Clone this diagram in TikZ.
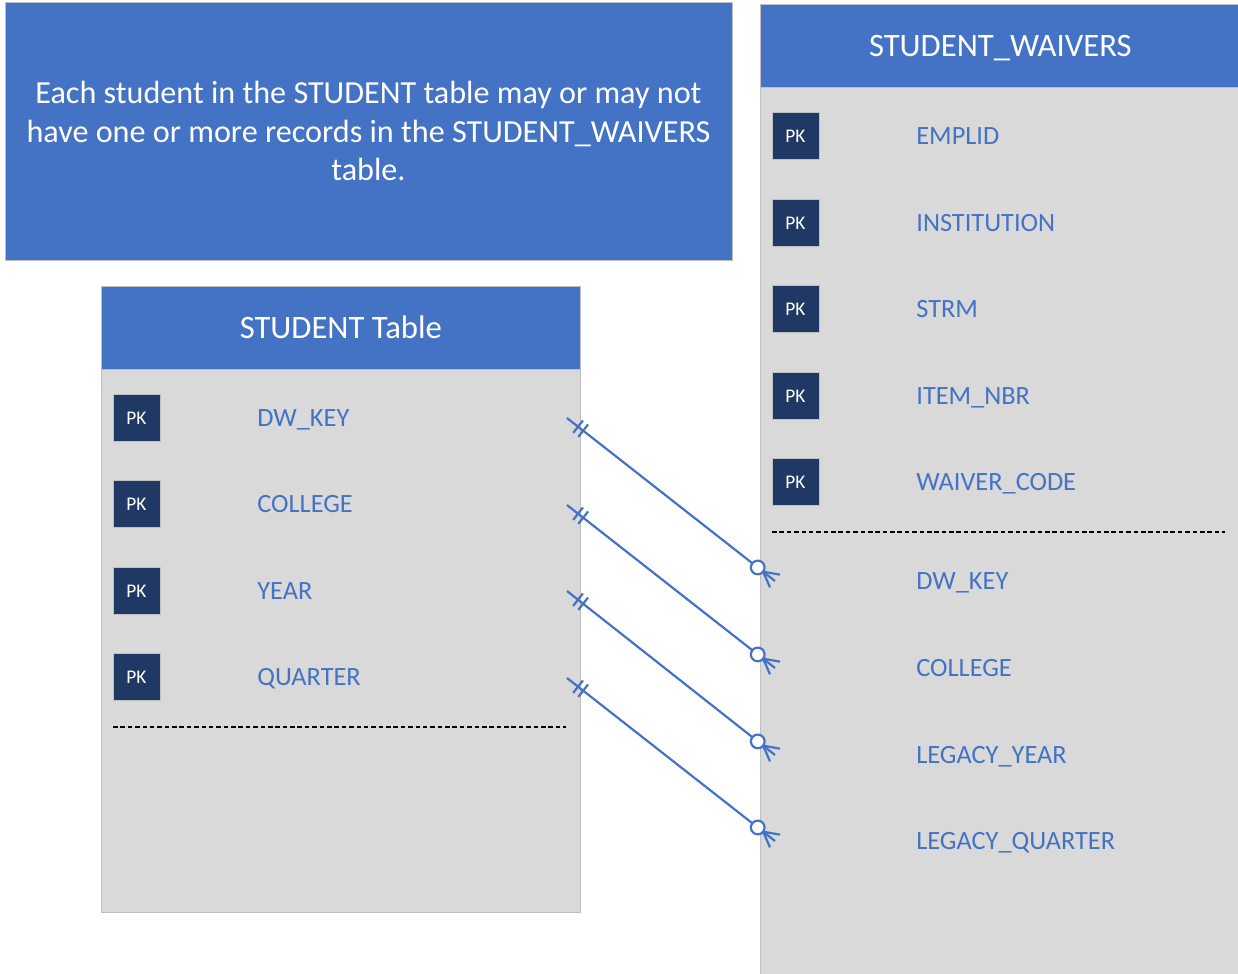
\documentclass[tikz,border=0pt]{standalone}
\usepackage{fontspec}
\setmainfont{Carlito}
\usetikzlibrary{positioning, decorations.markings}
\definecolor{hdrblue}{HTML}{4472C4}
\definecolor{pkblue}{HTML}{203864}
\definecolor{bodygray}{HTML}{D9D9D9}
\definecolor{edgegray}{HTML}{BFBFBF}

\begin{document}
\begin{tikzpicture}[
    x=0.02cm, y=-0.02cm,
    note/.style={rectangle, draw=edgegray, fill=hdrblue, text=white, minimum width=14.54cm, minimum height=5.16cm, align=center, inner sep=0pt, font=\fontsize{18.3}{22.1}\selectfont},
    header/.style={rectangle, draw=edgegray, fill=hdrblue, text=white, minimum height=1.66cm, anchor=north west, inner sep=0pt, text height=12pt, text depth=0pt, font=\fontsize{18.6}{23}\selectfont},
    tbody/.style={rectangle, draw=edgegray, fill=bodygray, anchor=north west, inner sep=0pt},
    pk/.style={rectangle, draw=edgegray, fill=pkblue, text=white, minimum size=0.94cm, inner sep=0pt, text height=7.1pt, text depth=0pt, font=\fontsize{11}{13}\selectfont},
    field/.style={text=hdrblue, anchor=west, inner sep=0pt, text height=9.7pt, text depth=0pt, font=\fontsize{15}{18}\selectfont},
    sep/.style={draw=black, line width=0.7pt, dash pattern=on 2.6pt off 1.6pt},
    relmark/.style={draw=hdrblue, line width=1.25pt},
    rel/.style={relmark, postaction={decorate, decoration={markings,
        mark=at position 8pt with {\draw[relmark] (0,-4.5pt) -- (0,4.5pt);},
        mark=at position 11.7pt with {\draw[relmark] (0,-4.5pt) -- (0,4.5pt);},
        mark=at position -12.5pt with {\draw[relmark, fill=white] (0,0) circle (3.9pt);},
        mark=at position -8.6pt with {\draw[relmark] (0,0) -- (8.6pt,4.6pt) (0,0) -- (8.6pt,-4.6pt);}}}}
]
\useasboundingbox (0,0) rectangle (1238,974);

% === Note ===
\node[note] (note) at (368.5,131) {Each student in the STUDENT table may or may not\\have one or more records in the STUDENT\_WAIVERS\\table.};

% === STUDENT Table (left) ===
\node[tbody, minimum width=9.58cm, minimum height=10.86cm] (sbody) at (101,369) {};
\node[header, minimum width=9.58cm] (shead) at (101,286) {STUDENT Table};

\node[pk] (spk1) at (136.5,418) {PK};
\node[pk] (spk2) at (136.5,504) {PK};
\node[pk] (spk3) at (136.5,591) {PK};
\node[pk] (spk4) at (136.5,677) {PK};
\node[field] (sdwkey) at (257,418) {DW\_KEY};
\node[field] (scollege) at (257,504) {COLLEGE};
\node[field] (syear) at (257,591) {YEAR};
\node[field] (squarter) at (257,677) {QUARTER};
\draw[sep] (113,727) -- (566,727);

% === STUDENT_WAIVERS (right) ===
\node[tbody, minimum width=9.6cm, minimum height=17.9cm] (wbody) at (760,87) {};
\node[header, minimum width=9.6cm] (whead) at (760,4) {STUDENT\_WAIVERS};

\node[pk] (wpk1) at (795.5,136) {PK};
\node[pk] (wpk2) at (795.5,223) {PK};
\node[pk] (wpk3) at (795.5,309) {PK};
\node[pk] (wpk4) at (795.5,396) {PK};
\node[pk] (wpk5) at (795.5,482) {PK};
\node[field] (wemplid) at (916,136) {EMPLID};
\node[field] (winst) at (916,223) {INSTITUTION};
\node[field] (wstrm) at (916,309) {STRM};
\node[field] (witem) at (916,396) {ITEM\_NBR};
\node[field] (wcode) at (916,482) {WAIVER\_CODE};
\draw[sep] (772,532) -- (1225,532);
\node[field] (wdwkey) at (916,581) {DW\_KEY};
\node[field] (wcollege) at (916,668) {COLLEGE};
\node[field] (wyear) at (916,755) {LEGACY\_YEAR};
\node[field] (wquarter) at (916,841) {LEGACY\_QUARTER};

% relationship ends
\coordinate (s1) at (567,418);
\coordinate (s2) at (567,505);
\coordinate (s3) at (567,591);
\coordinate (s4) at (567,678);
\coordinate (w1) at (775,581);
\coordinate (w2) at (775,668);
\coordinate (w3) at (775,755);
\coordinate (w4) at (775,841);

\draw[rel] (s1) -- (w1);
\draw[rel] (s2) -- (w2);
\draw[rel] (s3) -- (w3);
\draw[rel] (s4) -- (w4);

\end{tikzpicture}
\end{document}
